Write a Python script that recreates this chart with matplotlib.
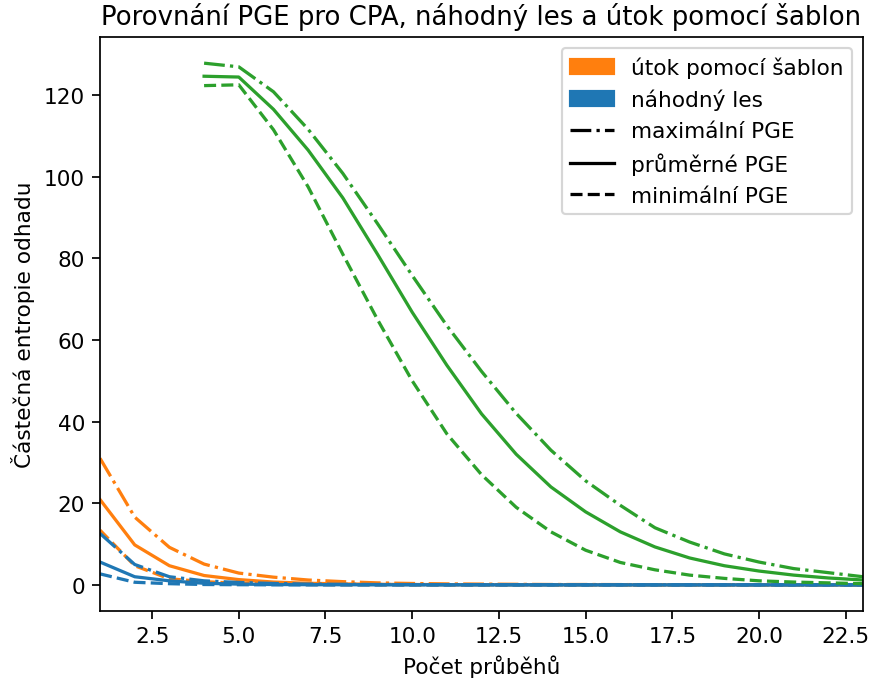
"""PGE comparison: CPA vs random forest vs template attack."""
import matplotlib
matplotlib.use("Agg")
import matplotlib.pyplot as plt
from matplotlib.patches import Patch
from matplotlib.lines import Line2D

# number of traces
traces_ta = list(range(1, 24))
traces_cpa = list(range(4, 24))

# template attack (orange)
ta_max = [31.0, 16.6, 9.2, 5.1, 2.9, 1.9, 1.2, 0.8, 0.5, 0.35, 0.25, 0.2, 0.15, 0.1,
          0.1, 0.08, 0.06, 0.05, 0.04, 0.03, 0.03, 0.02, 0.02]
ta_mean = [20.9, 9.8, 4.7, 2.3, 1.3, 0.7, 0.4, 0.25, 0.15, 0.1, 0.07, 0.05, 0.04, 0.03,
           0.02, 0.02, 0.01, 0.01, 0.01, 0.01, 0.0, 0.0, 0.0]
ta_min = [13.4, 4.7, 1.5, 0.8, 0.4, 0.2, 0.1, 0.05, 0.03, 0.02, 0.01, 0.0, 0.0, 0.0,
          0.0, 0.0, 0.0, 0.0, 0.0, 0.0, 0.0, 0.0, 0.0]

# random forest (blue)
rf_max = [12.6, 5.0, 2.0, 1.0, 0.6, 0.35, 0.2, 0.15, 0.1, 0.08, 0.06, 0.05, 0.04, 0.03,
          0.02, 0.02, 0.01, 0.01, 0.01, 0.01, 0.0, 0.0, 0.0]
rf_mean = [5.6, 2.0, 1.0, 0.4, 0.2, 0.1, 0.06, 0.04, 0.03, 0.02, 0.01, 0.01, 0.0, 0.0,
           0.0, 0.0, 0.0, 0.0, 0.0, 0.0, 0.0, 0.0, 0.0]
rf_min = [2.7, 0.65, 0.3, 0.1, 0.05, 0.02, 0.01, 0.0, 0.0, 0.0, 0.0, 0.0, 0.0, 0.0,
          0.0, 0.0, 0.0, 0.0, 0.0, 0.0, 0.0, 0.0, 0.0]

# CPA (green)
cpa_max = [127.8, 126.9, 120.8, 111.6, 100.8, 88.5, 75.8, 63.5, 52.3, 42.0, 33.0, 25.5,
           19.5, 14.0, 10.5, 7.6, 5.6, 4.0, 3.0, 2.0]
cpa_mean = [124.6, 124.4, 116.5, 106.5, 94.8, 81.0, 66.8, 53.8, 41.9, 32.0, 24.0, 17.9,
            13.0, 9.3, 6.6, 4.7, 3.4, 2.4, 1.7, 1.2]
cpa_min = [122.3, 122.5, 111.5, 97.5, 81.0, 65.0, 50.0, 37.0, 27.0, 19.0, 13.0, 8.5,
           5.5, 3.7, 2.4, 1.6, 1.0, 0.7, 0.5, 0.3]

DPI = 156
fig = plt.figure(figsize=(870 / DPI, 680 / DPI), dpi=DPI)
ax = fig.add_axes([0.115, 0.1, 0.877, 0.844])

c_ta, c_rf, c_cpa = "#ff7f0e", "#1f77b4", "#2ca02c"

ax.plot(traces_ta, ta_max, "-.", color=c_ta)
ax.plot(traces_ta, ta_mean, "-", color=c_ta)
ax.plot(traces_ta, ta_min, "--", color=c_ta)
ax.plot(traces_ta, rf_max, "-.", color=c_rf)
ax.plot(traces_ta, rf_mean, "-", color=c_rf)
ax.plot(traces_ta, rf_min, "--", color=c_rf)
ax.plot(traces_cpa, cpa_max, "-.", color=c_cpa)
ax.plot(traces_cpa, cpa_mean, "-", color=c_cpa)
ax.plot(traces_cpa, cpa_min, "--", color=c_cpa)

ax.set_xlim(1, 23)
ax.set_xlabel("Počet průběhů")
ax.set_ylabel("Částečná entropie odhadu")
ax.set_title("Porovnání PGE pro CPA, náhodný les a útok pomocí šablon")

handles = [
    Patch(color=c_ta, label="útok pomocí šablon"),
    Patch(color=c_rf, label="náhodný les"),
    Line2D([], [], color="black", ls="-.", label="maximální PGE"),
    Line2D([], [], color="black", ls="-", label="průměrné PGE"),
    Line2D([], [], color="black", ls="--", label="minimální PGE"),
]
ax.legend(handles=handles, loc="upper right")

fig.savefig("out.png", dpi=DPI)
